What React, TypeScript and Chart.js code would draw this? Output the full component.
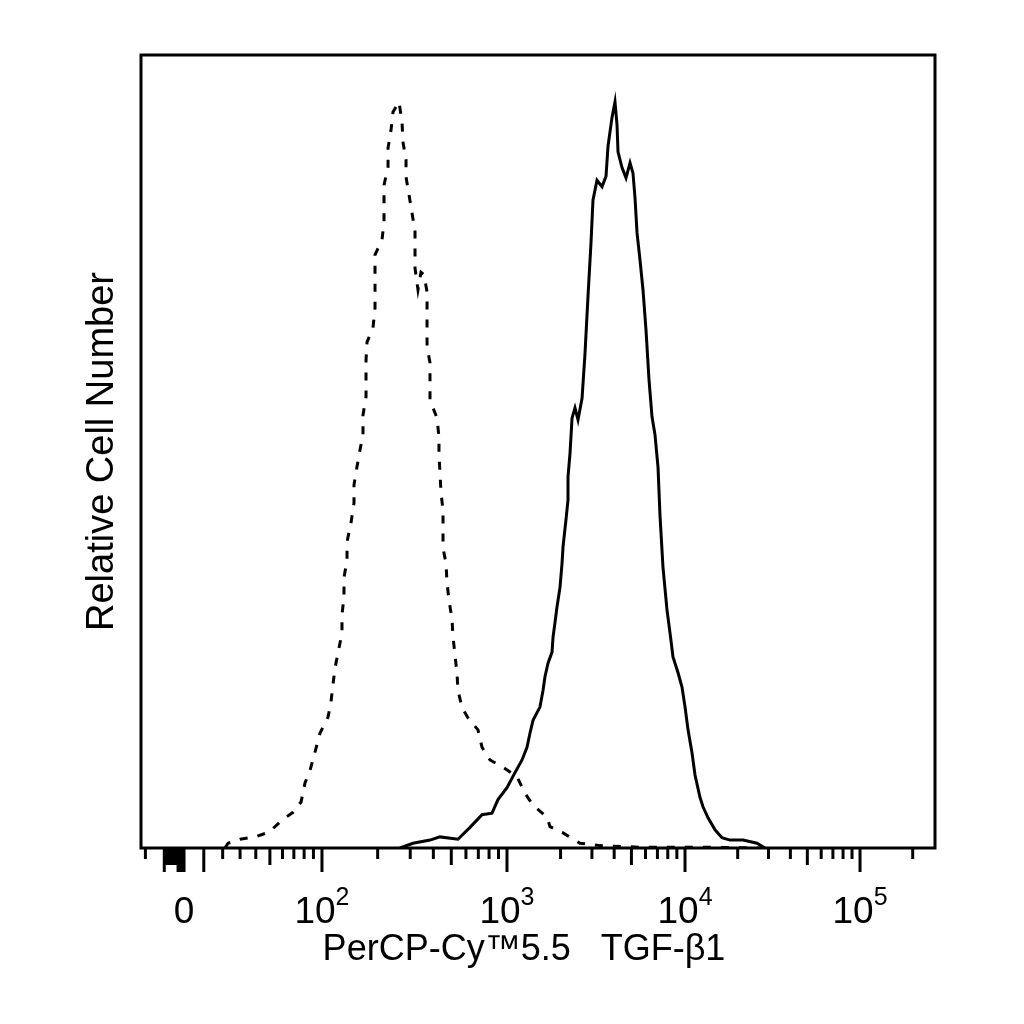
import React, { useEffect, useRef } from 'react';
import { Chart, registerables, Plugin } from 'chart.js';

Chart.register(...registerables);

// x: display channel across the biexponential axis (0-1024), y: % of full scale
const isotypeChannels = [
  108.3, 112.2, 127.7, 147.0, 165.1, 181.8, 196.0, 206.4, 211.5, 218.0, 224.4, 230.9, 241.2, 245.0,
  247.6, 250.2, 254.1, 259.2, 259.2, 261.8, 261.8, 265.7, 265.7, 270.8, 274.7, 274.7, 278.6, 282.4,
  286.3, 286.3, 290.2, 290.2, 290.2, 291.5, 299.2, 301.8, 301.8, 301.8, 301.8, 310.8, 313.4, 313.4,
  313.4, 318.6, 318.6, 322.4, 325.0, 332.7, 336.6, 337.9, 341.8, 341.8, 345.6, 349.5, 353.4, 353.4,
  353.4, 357.2, 361.1, 365.0, 368.9, 368.9, 368.9, 368.9, 372.7, 372.7, 372.7, 381.8, 384.3, 384.3,
  385.6, 386.9, 389.5, 389.5, 389.5, 393.4, 394.6, 397.2, 401.1, 402.4, 405.0, 407.5, 408.8, 414.0,
  421.7, 434.6, 439.8, 450.1, 466.9, 484.9, 495.2, 505.6, 523.6, 527.5, 544.3, 566.2, 592.0, 643.6,
  720.9, 798.3,
];
const isotypeCounts = [
  0, 0.6, 1.1, 1.4, 2.0, 3.5, 4.5, 5.8, 8.2, 9.8, 12.1, 14.5, 16.5, 18.4,
  20.6, 22.7, 24.6, 27.1, 29.4, 31.7, 34.1, 36.3, 38.6, 41.0, 43.5, 45.8, 48.1, 50.2,
  52.1, 54.6, 56.9, 59.3, 61.5, 63.8, 65.6, 68.1, 70.4, 72.5, 74.8, 76.7, 78.9, 81.3,
  83.6, 85.9, 88.3, 90.5, 92.8, 94.1, 91.6, 89.0, 86.8, 84.6, 82.4, 80.1, 77.7, 75.4,
  73.1, 70.4, 72.6, 72.3, 70.1, 67.8, 65.6, 63.2, 61.2, 58.8, 56.5, 54.2, 51.8, 49.6,
  47.3, 44.8, 42.6, 40.1, 37.8, 35.9, 33.5, 31.3, 28.8, 26.6, 24.3, 22.1, 19.9, 17.7,
  16.4, 14.9, 12.7, 11.1, 10.2, 9.0, 6.9, 5.4, 3.9, 2.7, 1.9, 0.6, 0.3, 0.1,
  0.1, 0,
];

const tgfChannels = [
  334.0, 350.8, 372.7, 385.6, 408.8, 424.3, 439.8, 452.7, 460.4, 472.0, 482.3, 491.4, 497.8, 501.7,
  505.6, 514.6, 518.5, 521.0, 524.9, 530.1, 531.4, 533.9, 536.5, 540.4, 543.0, 544.3, 548.1, 550.7,
  550.7, 553.3, 555.9, 559.7, 563.6, 568.8, 572.6, 576.5, 580.4, 582.9, 588.1, 594.6, 599.7, 602.3,
  607.4, 611.3, 613.9, 615.2, 620.3, 625.5, 630.7, 634.5, 637.1, 639.7, 643.6, 647.4, 651.3, 655.2,
  659.0, 662.9, 666.8, 669.3, 673.2, 678.4, 682.3, 686.1, 692.6, 697.7, 701.6, 705.5, 710.6, 714.5,
  720.9, 724.8, 731.3, 740.3, 749.3, 759.6, 776.4, 794.5, 804.8,
];
const tgfCounts = [
  0, 0.6, 1.0, 1.4, 1.1, 2.6, 4.2, 4.4, 6.1, 7.6, 9.5, 11.1, 12.7, 14.5,
  16.1, 17.8, 19.9, 21.6, 23.3, 24.7, 26.6, 28.4, 30.4, 32.9, 35.9, 38.0, 41.4, 43.9,
  46.8, 49.8, 54.2, 55.5, 54.0, 56.7, 62.3, 69.6, 76.4, 81.7, 84.2, 83.4, 84.7, 88.5,
  92.1, 94.1, 91.2, 87.8, 85.8, 84.5, 86.4, 85.1, 82.0, 77.6, 74.1, 70.4, 65.3, 59.0,
  54.4, 52.1, 48.0, 42.0, 35.4, 30.0, 27.1, 24.1, 22.1, 20.3, 17.8, 14.9, 12.0, 9.2,
  6.4, 5.2, 3.8, 2.3, 1.3, 1.0, 1.0, 0.6, 0,
];

// axis calibration: channel of 0 and of each decade
const zeroChannel = 55.5;
const decadeChannels = [233.4, 472.0, 701.6, 927.3]; // 10^2 .. 10^5
const asinhWidth = 45;

const labelValues = [0, 100, 1000, 10000, 100000];
const labelBases = ['0', '10', '10', '10', '10'];
const labelExponents = ['', '2', '3', '4', '5'];

const longTicks = [-10, -3, -2, -1, 0, 10, 100, 1000, 10000, 100000];
const midTicks = [-9, -8, -7, -6, -5, -4, 50, 500, 5000, 50000];
const shortTicks = [
  -20, 20, 30, 40, 60, 70, 80, 90,
  ...[100, 1000, 10000].flatMap((d) => [2, 3, 4, 6, 7, 8, 9].map((m) => m * d)),
  200000,
];

function toChannel(v: number): number {
  if (Math.abs(v) <= 100) {
    const f = Math.asinh(Math.abs(v) / asinhWidth) / Math.asinh(100 / asinhWidth);
    return zeroChannel + Math.sign(v) * f * (decadeChannels[0] - zeroChannel);
  }
  const lg = Math.log10(v);
  const k = Math.min(Math.floor(lg) - 2, decadeChannels.length - 2);
  const width = decadeChannels[k + 1] - decadeChannels[k];
  return decadeChannels[k] + (lg - (k + 2)) * width;
}

const FONT = '"Liberation Sans", Arial, Helvetica, sans-serif';

const flowAxisPlugin: Plugin<'line'> = {
  id: 'flowAxis',
  afterDatasetsDraw(chart) {
    const { ctx, chartArea: a } = chart;
    const xs = chart.scales.x;
    ctx.save();
    ctx.strokeStyle = '#000';
    ctx.fillStyle = '#000';
    ctx.lineWidth = 3;
    ctx.strokeRect(a.left, a.top, a.right - a.left, a.bottom - a.top);

    const drawTicks = (vals: number[], len: number) => {
      vals.forEach((v) => {
        const px = xs.getPixelForValue(toChannel(v));
        ctx.beginPath();
        ctx.moveTo(px, a.bottom);
        ctx.lineTo(px, a.bottom + len);
        ctx.stroke();
      });
    };
    drawTicks(shortTicks, 11);
    drawTicks(midTicks, 17);
    drawTicks(longTicks, 24);

    ctx.textBaseline = 'alphabetic';
    ctx.textAlign = 'left';
    labelValues.forEach((v, i) => {
      const px = xs.getPixelForValue(toChannel(v));
      ctx.font = `37px ${FONT}`;
      const wb = ctx.measureText(labelBases[i]).width;
      ctx.font = `25px ${FONT}`;
      const we = labelExponents[i] ? ctx.measureText(labelExponents[i]).width : 0;
      const x0 = px - (wb + we) / 2;
      ctx.font = `37px ${FONT}`;
      ctx.fillText(labelBases[i], x0, a.bottom + 75);
      if (labelExponents[i]) {
        ctx.font = `25px ${FONT}`;
        ctx.fillText(labelExponents[i], x0 + wb, a.bottom + 57);
      }
    });

    ctx.font = `36px ${FONT}`;
    ctx.textAlign = 'center';
    ctx.fillText('PerCP-Cy\u21225.5   TGF-\u03B21', (a.left + a.right) / 2 - 14, a.bottom + 112);

    ctx.font = `38px ${FONT}`;
    ctx.translate(a.left - 28, (a.top + a.bottom) / 2);
    ctx.rotate(-Math.PI / 2);
    ctx.fillText('Relative Cell Number', 0, 0);
    ctx.restore();
  },
};

const App: React.FC = () => {
  const canvasRef = useRef<HTMLCanvasElement | null>(null);
  const chartRef = useRef<Chart | null>(null);

  useEffect(() => {
    if (!canvasRef.current) return;
    const ctx = canvasRef.current.getContext('2d');
    if (!ctx) return;

    chartRef.current = new Chart(ctx, {
      type: 'line',
      data: {
        datasets: [
          {
            label: 'Isotype',
            data: isotypeChannels.map((x, i) => ({ x, y: isotypeCounts[i] })),
            borderColor: '#000',
            borderWidth: 3,
            borderDash: [8, 10],
            pointRadius: 0,
            tension: 0,
            fill: false,
          },
          {
            label: 'TGF-β1',
            data: tgfChannels.map((x, i) => ({ x, y: tgfCounts[i] })),
            borderColor: '#000',
            borderWidth: 3,
            pointRadius: 0,
            tension: 0,
            fill: false,
          },
        ],
      },
      options: {
        responsive: false,
        animation: false,
        devicePixelRatio: 1,
        layout: { padding: { left: 141, right: 89, top: 55, bottom: 176 } },
        plugins: { legend: { display: false }, tooltip: { enabled: false } },
        scales: {
          x: { type: 'linear', min: 0, max: 1024, display: false },
          y: { type: 'linear', min: 0, max: 100, display: false },
        },
      },
      plugins: [flowAxisPlugin],
    });

    return () => {
      if (chartRef.current) {
        chartRef.current.destroy();
        chartRef.current = null;
      }
    };
  }, []);

  return (
    <div style={{ position: 'fixed', left: 0, top: 0, width: 1024, height: 1024, background: '#fff' }}>
      <canvas ref={canvasRef} width={1024} height={1024} />
    </div>
  );
};

export default App;
